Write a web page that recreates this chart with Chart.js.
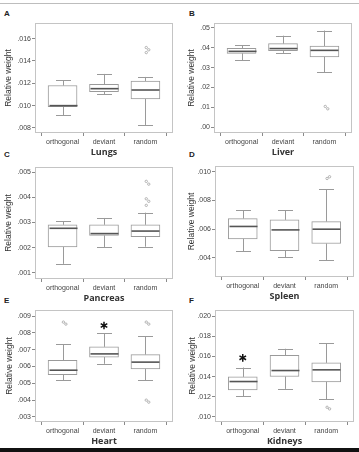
<!DOCTYPE html>
<html>
<head>
<meta charset="utf-8">
<script src="https://cdn.jsdelivr.net/npm/chart.js@4.4.1/dist/chart.umd.min.js"></script>
<style>
body { margin: 0; background: #fff; }
#page { position: relative; width: 359px; height: 452px; overflow: hidden; font-family: "Liberation Sans", Arial, sans-serif; }
canvas { position: absolute; }
.letter { position: absolute; font-weight: bold; font-size: 8px; line-height: 10px; color: #222; }
.rule { position: absolute; left: 0; width: 359px; }
</style>
</head>
<body>
<div id="page">
  <div class="rule" style="top:3px;height:1px;background:#bdbdbd"></div>
  <div class="rule" style="top:448px;height:4px;background:#111"></div>
  <div class="letter" style="left:4px;top:9px">A</div>
  <div class="letter" style="left:189px;top:9px">B</div>
  <div class="letter" style="left:4px;top:150px">C</div>
  <div class="letter" style="left:189px;top:150px">D</div>
  <div class="letter" style="left:4px;top:296px">E</div>
  <div class="letter" style="left:189px;top:296px">F</div>
  <canvas id="lungs"></canvas>
  <canvas id="liver"></canvas>
  <canvas id="pancreas"></canvas>
  <canvas id="spleen"></canvas>
  <canvas id="heart"></canvas>
  <canvas id="kidneys"></canvas>
</div>

<script>
// categories
const groups = ["orthogonal", "deviant", "random"];

// box stats per group: [min, q1, median, q3, max]
const lungsStats = [
    [0.00913, 0.00990, 0.01000, 0.01180, 0.01227],
    [0.01101, 0.01125, 0.01152, 0.01191, 0.01284],
    [0.00827, 0.01060, 0.01140, 0.01221, 0.01257]
];
const lungsOutliers = [[], [], [0.01520, 0.01500, 0.01475]];
const lungsTicks = [0.008, 0.010, 0.012, 0.014, 0.016];

const liverStats = [
    [0.0338, 0.0372, 0.0382, 0.0397, 0.0414],
    [0.0374, 0.0386, 0.0396, 0.0421, 0.0461],
    [0.0276, 0.0354, 0.0387, 0.0409, 0.0487]
];
const liverOutliers = [[], [], [0.0104, 0.0092]];
const liverTicks = [0.00, 0.01, 0.02, 0.03, 0.04, 0.05];

const pancreasStats = [
    [0.00136, 0.00203, 0.00277, 0.00291, 0.00305],
    [0.00203, 0.00249, 0.00256, 0.00291, 0.00318],
    [0.00204, 0.00244, 0.00266, 0.00291, 0.00339]
];
const pancreasOutliers = [[], [], [0.00463, 0.00452, 0.00394, 0.00384, 0.00368]];
const pancreasTicks = [0.001, 0.002, 0.003, 0.004, 0.005];

const spleenStats = [
    [0.00447, 0.00533, 0.00619, 0.00674, 0.00733],
    [0.00405, 0.00451, 0.00595, 0.00665, 0.00733],
    [0.00384, 0.00500, 0.00600, 0.00653, 0.00877]
];
const spleenOutliers = [[], [], [0.00953, 0.00965]];
const spleenTicks = [0.004, 0.006, 0.008, 0.010];

const heartStats = [
    [0.00517, 0.00552, 0.00578, 0.00636, 0.00731],
    [0.00616, 0.00656, 0.00675, 0.00717, 0.00797],
    [0.00517, 0.00586, 0.00626, 0.00671, 0.00779]
];
const heartOutliers = [[0.00864, 0.00852], [], [0.00864, 0.00852, 0.00400, 0.00388]];
const heartTicks = [0.003, 0.004, 0.005, 0.006, 0.007, 0.008, 0.009];
const heartStars = [null, 0.00844, null];

const kidneysStats = [
    [0.01205, 0.01268, 0.01351, 0.01397, 0.01490],
    [0.01278, 0.01401, 0.01460, 0.01610, 0.01676],
    [0.01175, 0.01348, 0.01467, 0.01536, 0.01728]
];
const kidneysOutliers = [[], [], [0.01096, 0.01080]];
const kidneysTicks = [0.010, 0.012, 0.014, 0.016, 0.018, 0.020];
const kidneysStars = [0.01586, null, null];

// colours
const boxColor = "#9a9a9a";
const medianColor = "#555";
const frameColor = "#c4c4c4";
const tickColor = "#8a8a8a";
const textColor = "#333";

// draws frame, whiskers, medians and asterisks using the chart scales
function boxParts(stats, stars) {
    return {
        id: "boxParts",
        beforeDatasetsDraw(chart) {
            const a = chart.chartArea;
            const ctx = chart.ctx;
            ctx.save();
            ctx.strokeStyle = frameColor;
            ctx.lineWidth = 1;
            ctx.strokeRect(Math.round(a.left) + 0.5, Math.round(a.top) + 0.5,
                Math.round(a.right - a.left) - 1, Math.round(a.bottom - a.top) - 1);
            ctx.restore();
        },
        afterDatasetsDraw(chart) {
            const ctx = chart.ctx;
            const xs = chart.scales.x;
            const ys = chart.scales.y;
            ctx.save();
            stats.forEach((s, i) => {
                const x = Math.round(xs.getPixelForValue(i)) + 0.5;
                const yMin = ys.getPixelForValue(s[0]);
                const yQ1 = ys.getPixelForValue(s[1]);
                const yMed = ys.getPixelForValue(s[2]);
                const yQ3 = ys.getPixelForValue(s[3]);
                const yMax = ys.getPixelForValue(s[4]);
                ctx.strokeStyle = boxColor;
                ctx.lineWidth = 1;
                ctx.beginPath();
                ctx.moveTo(x, yQ3); ctx.lineTo(x, yMax);
                ctx.moveTo(x, yQ1); ctx.lineTo(x, yMin);
                ctx.moveTo(x - 7.5, Math.round(yMax) + 0.5); ctx.lineTo(x + 7.5, Math.round(yMax) + 0.5);
                ctx.moveTo(x - 7.5, Math.round(yMin) + 0.5); ctx.lineTo(x + 7.5, Math.round(yMin) + 0.5);
                ctx.stroke();
                ctx.strokeStyle = medianColor;
                ctx.lineWidth = 1.6;
                ctx.beginPath();
                ctx.moveTo(x - 14, yMed); ctx.lineTo(x + 14, yMed);
                ctx.stroke();
            });
            if (stars) {
                stars.forEach((v, i) => {
                    if (v === null) return;
                    const cx = xs.getPixelForValue(i);
                    const cy = ys.getPixelForValue(v);
                    ctx.strokeStyle = "#111";
                    ctx.lineWidth = 1.5;
                    ctx.beginPath();
                    for (let k = 0; k < 3; k++) {
                        const ang = Math.PI / 2 + k * Math.PI / 3;
                        ctx.moveTo(cx - 3.8 * Math.cos(ang), cy - 3.8 * Math.sin(ang));
                        ctx.lineTo(cx + 3.8 * Math.cos(ang), cy + 3.8 * Math.sin(ang));
                    }
                    ctx.stroke();
                });
            }
            ctx.restore();
        }
    };
}

function makePanel(p) {
    const canvas = document.getElementById(p.id);
    const top = p.t - 18;
    const width = p.r - p.col + 5;
    const height = p.b - top + 25;
    canvas.width = width;
    canvas.height = height;
    canvas.style.left = p.col + "px";
    canvas.style.top = top + "px";

    const outlierPoints = [];
    p.outliers.forEach((list, i) => {
        list.forEach((v, k) => {
            outlierPoints.push({ x: i + (k % 2 === 0 ? 0.02 : 0.08), y: v });
        });
    });

    new Chart(canvas, {
        type: "bar",
        data: {
            datasets: [{
                data: p.stats.map((s, i) => ({ x: i, y: [s[1], s[3]] })),
                backgroundColor: "#fff",
                borderColor: boxColor,
                borderWidth: 1,
                borderSkipped: false,
                barThickness: 29,
                order: 2
            }, {
                type: "scatter",
                data: outlierPoints,
                pointStyle: "circle",
                pointRadius: 1.2,
                pointBorderWidth: 0.7,
                pointBorderColor: "#9a9a9a",
                pointBackgroundColor: "#fff",
                order: 1
            }]
        },
        options: {
            responsive: false,
            animation: false,
            events: [],
            layout: { padding: { top: 18, right: 5, left: 0, bottom: 0 } },
            plugins: { legend: { display: false }, tooltip: { enabled: false } },
            scales: {
                x: {
                    type: "linear",
                    offset: false,
                    min: -0.665,
                    max: 2.665,
                    afterBuildTicks: (s) => { s.ticks = groups.map((g, i) => ({ value: i })); },
                    afterFit: (s) => { s.height = 25; },
                    ticks: {
                        callback: (v) => groups[v],
                        autoSkip: false,
                        maxRotation: 0,
                        padding: 2,
                        color: "#444",
                        font: { family: "Liberation Sans", size: 7 }
                    },
                    grid: { drawOnChartArea: false, drawTicks: true, tickLength: 3, color: tickColor },
                    border: { display: false },
                    title: {
                        display: true,
                        text: p.title,
                        color: textColor,
                        padding: { top: 0, bottom: 0 },
                        font: { family: "Open Sans", size: 9, weight: "bold" }
                    }
                },
                y: {
                    min: p.min,
                    max: p.max,
                    afterBuildTicks: (s) => { s.ticks = p.ticks.map(v => ({ value: v })); },
                    afterFit: (s) => { s.width = p.l - p.col; },
                    ticks: {
                        callback: (v) => v.toFixed(p.dec).replace(/^0/, ""),
                        padding: 1,
                        color: "#444",
                        font: { family: "Liberation Sans", size: 7 }
                    },
                    grid: { drawOnChartArea: false, drawTicks: true, tickLength: 3, color: tickColor },
                    border: { display: false },
                    title: {
                        display: true,
                        text: "Relative weight",
                        color: textColor,
                        padding: { top: p.tpad, bottom: 0 },
                        font: { family: "Liberation Sans", size: 8.5 }
                    }
                }
            }
        },
        plugins: [boxParts(p.stats, p.stars)]
    });
}

makePanel({ id: "lungs", col: 0, l: 35, t: 23, r: 173, b: 133, min: 0.00755, max: 0.0174, dec: 3, tpad: 3.4,
    title: "Lungs", stats: lungsStats, outliers: lungsOutliers, ticks: lungsTicks });
makePanel({ id: "liver", col: 179, l: 214, t: 23, r: 352, b: 133, min: -0.003, max: 0.0525, dec: 2, tpad: 7.9,
    title: "Liver", stats: liverStats, outliers: liverOutliers, ticks: liverTicks });
makePanel({ id: "pancreas", col: 0, l: 35, t: 167, r: 173, b: 279, min: 0.00076, max: 0.0052, dec: 3, tpad: 3.4,
    title: "Pancreas", stats: pancreasStats, outliers: pancreasOutliers, ticks: pancreasTicks });
makePanel({ id: "spleen", col: 179, l: 215, t: 166, r: 354, b: 277, min: 0.00267, max: 0.0104, dec: 3, tpad: 7.4,
    title: "Spleen", stats: spleenStats, outliers: spleenOutliers, ticks: spleenTicks });
makePanel({ id: "heart", col: 0, l: 35, t: 310, r: 173, b: 422, min: 0.0027, max: 0.00936, dec: 3, tpad: 4.4,
    title: "Heart", stats: heartStats, outliers: heartOutliers, ticks: heartTicks, stars: heartStars });
makePanel({ id: "kidneys", col: 179, l: 215, t: 310, r: 354, b: 422, min: 0.0095, max: 0.0206, dec: 3, tpad: 8.4,
    title: "Kidneys", stats: kidneysStats, outliers: kidneysOutliers, ticks: kidneysTicks, stars: kidneysStars });
</script>
</body>
</html>
